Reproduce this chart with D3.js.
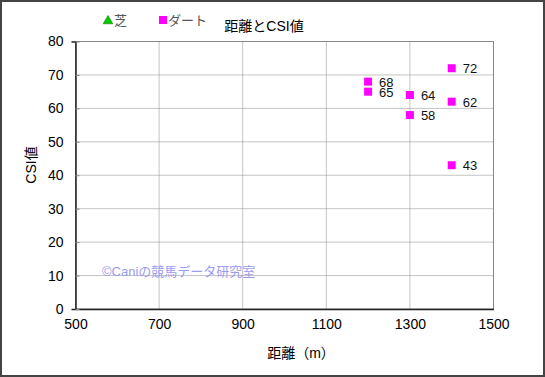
<!DOCTYPE html>
<html>
<head>
<meta charset="utf-8">
<script src="https://cdn.jsdelivr.net/npm/d3@7"></script>
<style>
  body { margin: 0; background: #fff; }
  text { font-family: "Liberation Sans", Arial, "Noto Sans CJK JP", sans-serif; }
</style>
</head>
<body>
<div id="chart"></div>
<script>
// data
var distances = [1200, 1200, 1300, 1300, 1400, 1400, 1400];
var csiValues = [68, 65, 64, 58, 72, 62, 43];
var xTicks = [500, 700, 900, 1100, 1300, 1500];
var yTicks = [0, 10, 20, 30, 40, 50, 60, 70, 80];

var svgWidth = 545;
var svgHeight = 377;

var svg = d3.select("#chart").append("svg")
  .attr("width", svgWidth)
  .attr("height", svgHeight);

// outer frame
svg.append("rect")
  .attr("x", 1).attr("y", 1)
  .attr("width", svgWidth - 2).attr("height", svgHeight - 2)
  .attr("fill", "#fff")
  .attr("stroke", "#444")
  .attr("stroke-width", 2);

var x = d3.scaleLinear().domain([500, 1500]).range([75.5, 493.5]);
var y = d3.scaleLinear().domain([0, 80]).range([309, 41.5]);

// gridlines
svg.append("g").selectAll("line.vg")
  .data(xTicks.slice(1, -1))
  .enter().append("line")
  .attr("x1", d => x(d)).attr("x2", d => x(d))
  .attr("y1", y(80)).attr("y2", y(0))
  .attr("stroke", "#888").attr("stroke-dasharray", "1,1");

svg.append("g").selectAll("line.hg")
  .data(yTicks.slice(1, -1))
  .enter().append("line")
  .attr("x1", x(500)).attr("x2", x(1500))
  .attr("y1", d => y(d)).attr("y2", d => y(d))
  .attr("stroke", "#888").attr("stroke-dasharray", "1,1");

// plot frame
svg.append("rect")
  .attr("x", x(500)).attr("y", y(80))
  .attr("width", x(1500) - x(500)).attr("height", y(0) - y(80))
  .attr("fill", "none").attr("stroke", "#888");

// axes
var bottomAxis = d3.axisBottom(x).tickValues(xTicks).tickFormat(d3.format("d")).tickSize(0).tickPadding(10);
var leftAxis = d3.axisLeft(y).tickValues(yTicks).tickSize(4).tickPadding(8);

var xAxis = svg.append("g")
  .attr("transform", `translate(0, ${y(0)})`)
  .call(bottomAxis);
xAxis.select(".domain").attr("stroke", "#222").attr("stroke-width", 1.5);
xAxis.selectAll("text").attr("font-size", 14).attr("fill", "#000");

var yAxis = svg.append("g")
  .attr("transform", `translate(${x(500)}, 0)`)
  .call(leftAxis);
yAxis.select(".domain").attr("stroke", "#222").attr("stroke-width", 1.5);
yAxis.selectAll(".tick line").attr("stroke", "#888").attr("x2", 4).attr("x1", 0);
yAxis.selectAll("text").attr("font-size", 14).attr("fill", "#000").attr("x", -12);

// watermark
svg.append("text")
  .attr("x", 102).attr("y", 276)
  .attr("font-size", 13)
  .attr("fill", "#9b9bef")
  .text("©Caniの競馬データ研究室");

// points
svg.append("g").selectAll("rect")
  .data(distances)
  .enter().append("rect")
  .attr("x", (d, i) => x(d) - 4)
  .attr("y", (d, i) => y(csiValues[i]) - 4)
  .attr("width", 8).attr("height", 8)
  .attr("fill", "#ff00ff");

svg.append("g").selectAll("text")
  .data(distances)
  .enter().append("text")
  .attr("x", (d, i) => x(d) + 11)
  .attr("y", (d, i) => y(csiValues[i]) + 5)
  .attr("font-size", 13)
  .attr("fill", "#111")
  .text((d, i) => csiValues[i]);

// title
svg.append("text")
  .attr("x", 264).attr("y", 31)
  .attr("text-anchor", "middle")
  .attr("font-size", 14)
  .text("距離とCSI値");

// legend
svg.append("path")
  .attr("d", d3.symbol().type(d3.symbolTriangle).size(40)())
  .attr("transform", "translate(108, 21)")
  .attr("fill", "#00cc00").attr("stroke", "#006600").attr("stroke-width", 0.5);
svg.append("text")
  .attr("x", 114).attr("y", 25)
  .attr("font-size", 13).attr("fill", "#555")
  .text("芝");
svg.append("rect")
  .attr("x", 159).attr("y", 16).attr("width", 8).attr("height", 8)
  .attr("fill", "#ff00ff");
svg.append("text")
  .attr("x", 168).attr("y", 25)
  .attr("font-size", 13).attr("fill", "#555")
  .text("ダート");

// axis titles
svg.append("text")
  .attr("x", 301).attr("y", 358)
  .attr("text-anchor", "middle")
  .attr("font-size", 14)
  .text("距離（m）");

svg.append("text")
  .attr("transform", "translate(36, 165) rotate(-90)")
  .attr("text-anchor", "middle")
  .attr("font-size", 14)
  .text("CSI値");
</script>
</body>
</html>
